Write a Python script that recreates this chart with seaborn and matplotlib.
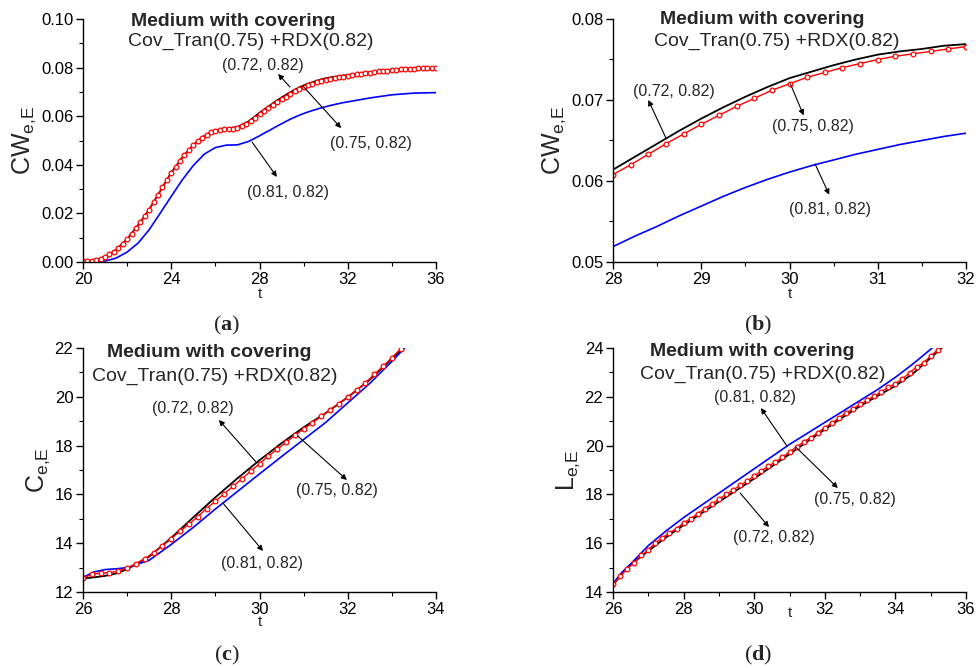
import numpy as np
import pandas as pd
import matplotlib
matplotlib.use("Agg")
import matplotlib.pyplot as plt
import seaborn as sns

sns.set_theme(style="ticks")
plt.rcParams["font.family"] = ["Liberation Sans", "DejaVu Sans"]
plt.rcParams["mathtext.fontset"] = "custom"
plt.rcParams["mathtext.rm"] = "Liberation Sans"
plt.rcParams["mathtext.it"] = "Liberation Sans"
plt.rcParams["mathtext.bf"] = "Liberation Serif:bold"

# ---------------- data: panels (a) and (b) : CW_e,E ----------------
t_cw_red = [20.0, 20.2, 20.4, 20.6, 20.8, 21.0, 21.2, 21.4, 21.6, 21.8,
            22.0, 22.2, 22.4, 22.6, 22.8, 23.0, 23.2, 23.4, 23.6, 23.8,
            24.0, 24.2, 24.4, 24.6, 24.8, 25.0, 25.2, 25.4, 25.6, 25.8,
            26.0, 26.2, 26.4, 26.6, 26.8, 27.0, 27.2, 27.4, 27.6, 27.8,
            28.0, 28.2, 28.4, 28.6, 28.8, 29.0, 29.2, 29.4, 29.6, 29.8,
            30.0, 30.2, 30.4, 30.6, 30.8, 31.0, 31.2, 31.4, 31.6, 31.8,
            32.0, 32.2, 32.4, 32.6, 32.8, 33.0, 33.2, 33.4, 33.6, 33.8,
            34.0, 34.2, 34.4, 34.6, 34.8, 35.0, 35.2, 35.4, 35.6, 35.8, 36.0]
cw_075 = [0.0003, 0.0004, 0.0006, 0.0009, 0.0014, 0.0021, 0.0031, 0.0043, 0.0058, 0.0075,
          0.0094, 0.0116, 0.0140, 0.0164, 0.0189, 0.0215, 0.0246, 0.0277, 0.0307, 0.0337,
          0.0366, 0.0392, 0.0417, 0.0440, 0.0461, 0.0480, 0.0497, 0.0512, 0.0524, 0.0534,
          0.0541, 0.0545, 0.0547, 0.0548, 0.0549, 0.0553, 0.0560, 0.0569, 0.0580, 0.0594,
          0.0608, 0.0620, 0.0633, 0.0646, 0.0658, 0.0670, 0.0681, 0.0692, 0.0702, 0.0712,
          0.0720, 0.0728, 0.0734, 0.0740, 0.0745, 0.0750, 0.0754, 0.0757, 0.0760, 0.0763,
          0.0766, 0.0769, 0.0772, 0.0775, 0.0777, 0.0779, 0.0781, 0.0784, 0.0786, 0.0788,
          0.0790, 0.0791, 0.0793, 0.0794, 0.0795, 0.0796, 0.0797, 0.0798, 0.0798, 0.0799, 0.0799]

t_cw = [20.0, 20.5, 21.0, 21.5, 22.0, 22.5, 23.0, 23.5, 24.0, 24.5, 25.0, 25.5,
        26.0, 26.5, 27.0, 27.5, 28.0, 28.25, 28.5, 28.75, 29.0, 29.25, 29.5, 29.75,
        30.0, 30.25, 30.5, 30.75, 31.0, 31.25, 31.5, 31.75, 32.0, 33.0, 34.0, 35.0, 36.0]
cw_072 = [0.0002, 0.0007, 0.0021, 0.0050, 0.0095, 0.0152, 0.0216, 0.0292, 0.0368, 0.0430,
          0.0482, 0.0519, 0.0542, 0.0549, 0.0555, 0.0578, 0.0614, 0.0630, 0.0646, 0.0662,
          0.0677, 0.0691, 0.0704, 0.0716, 0.0727, 0.0735, 0.0743, 0.0750, 0.0756, 0.0760,
          0.0763, 0.0767, 0.0769, 0.0781, 0.0791, 0.0797, 0.0799]
cw_081 = [0.0000, 0.0001, 0.0004, 0.0016, 0.0041, 0.0078, 0.0133, 0.0201, 0.0270, 0.0338,
          0.0397, 0.0444, 0.0471, 0.0481, 0.0482, 0.0496, 0.0519, 0.0532, 0.0544, 0.0557,
          0.0569, 0.0581, 0.0592, 0.0602, 0.0611, 0.0619, 0.0626, 0.0633, 0.0639, 0.0645,
          0.0650, 0.0655, 0.0659, 0.0675, 0.0688, 0.0695, 0.0697]

# ---------------- data: panel (c) : C_e,E ----------------
t_c_red = [26.0, 26.2, 26.4, 26.6, 26.8, 27.0, 27.2, 27.4, 27.6, 27.8,
           28.0, 28.2, 28.4, 28.6, 28.8, 29.0, 29.2, 29.4, 29.6, 29.8,
           30.0, 30.2, 30.4, 30.6, 30.8, 31.0, 31.2, 31.4, 31.6, 31.8,
           32.0, 32.2, 32.4, 32.6, 32.8, 33.0, 33.2, 33.4]
c_075 = [12.57, 12.72, 12.78, 12.79, 12.86, 12.98, 13.16, 13.37, 13.61, 13.89,
         14.19, 14.50, 14.77, 15.09, 15.42, 15.72, 16.03, 16.33, 16.64, 16.95,
         17.26, 17.57, 17.85, 18.13, 18.42, 18.68, 18.94, 19.20, 19.46, 19.72,
         19.99, 20.27, 20.57, 20.92, 21.25, 21.60, 21.97, 22.35]
t_c = [26.0, 26.25, 26.5, 26.75, 27.0, 27.5, 28.0, 28.5, 29.0, 29.5, 30.0,
       30.5, 31.0, 31.5, 32.0, 32.5, 33.0, 33.5]
c_072 = [12.55, 12.60, 12.66, 12.76, 12.93, 13.45, 14.22, 15.06, 15.88, 16.66, 17.40,
         18.10, 18.75, 19.33, 19.98, 20.70, 21.55, 22.45]
c_081 = [12.60, 12.82, 12.92, 12.95, 13.00, 13.30, 13.95, 14.65, 15.40, 16.12, 16.84,
         17.55, 18.25, 18.95, 19.75, 20.55, 21.45, 22.40]

# ---------------- data: panel (d) : L_e,E ----------------
t_l_red = [26.0, 26.2, 26.4, 26.6, 26.8, 27.0, 27.2, 27.4, 27.6, 27.8,
           28.0, 28.2, 28.4, 28.6, 28.8, 29.0, 29.2, 29.4, 29.6, 29.8,
           30.0, 30.2, 30.4, 30.6, 30.8, 31.0, 31.2, 31.4, 31.6, 31.8,
           32.0, 32.2, 32.4, 32.6, 32.8, 33.0, 33.2, 33.4, 33.6, 33.8,
           34.0, 34.2, 34.4, 34.6, 34.8, 35.0, 35.2, 35.4]
l_075 = [14.31, 14.64, 14.96, 15.19, 15.50, 15.73, 16.01, 16.23, 16.42, 16.60,
         16.83, 17.01, 17.21, 17.42, 17.61, 17.80, 18.00, 18.18, 18.37, 18.55,
         18.75, 18.96, 19.15, 19.33, 19.53, 19.74, 19.94, 20.15, 20.33, 20.53,
         20.73, 20.93, 21.13, 21.34, 21.51, 21.69, 21.86, 22.03, 22.20, 22.40,
         22.54, 22.74, 22.98, 23.22, 23.40, 23.67, 23.93, 24.20]
t_l = [26.0, 26.25, 26.5, 27.0, 27.5, 28.0, 28.5, 29.0, 29.5, 30.0, 30.5, 31.0,
       31.5, 32.0, 32.5, 33.0, 33.5, 34.0, 34.5, 35.0, 35.5]
l_072 = [14.28, 14.75, 15.12, 15.68, 16.24, 16.74, 17.22, 17.70, 18.17, 18.65, 19.15, 19.65,
         20.16, 20.66, 21.15, 21.62, 22.04, 22.45, 22.95, 23.60, 24.25]
l_081 = [14.35, 14.80, 15.15, 15.90, 16.50, 17.05, 17.55, 18.05, 18.55, 19.05, 19.55, 20.05,
         20.50, 20.95, 21.40, 21.85, 22.30, 22.80, 23.35, 23.95, 24.60]

labels = ["(0.72, 0.82)", "(0.75, 0.82)", "(0.81, 0.82)"]
title1 = "Medium with covering"
title2 = "Cov_Tran(0.75) +RDX(0.82)"
panel_tags = ["a", "b", "c", "d"]

fig = plt.figure(figsize=(9.76, 6.68), dpi=100)
W, H = 976.0, 668.0


def make_ax(l, r, t, b):
    return fig.add_axes([l / W, 1 - b / H, (r - l) / W, (b - t) / H])


axA = make_ax(83, 436, 19, 262)
axB = make_ax(613, 966, 19, 262)
axC = make_ax(83, 436, 348, 592)
axD = make_ax(613, 966, 348, 592)


def draw(ax, tb, yb, tblue, yblue, tr, yr):
    sns.lineplot(x=tb, y=yb, ax=ax, color="black", lw=1.3, estimator=None, sort=False)
    sns.lineplot(x=tblue, y=yblue, ax=ax, color="#0000FF", lw=1.2, estimator=None, sort=False)
    sns.lineplot(x=tr, y=yr, ax=ax, color="#FF0000", lw=1.0, estimator=None, sort=False,
                 marker="o", markersize=3.4, markerfacecolor="white",
                 markeredgecolor="#FF0000", markeredgewidth=0.9)


draw(axA, t_cw, cw_072, t_cw, cw_081, t_cw_red, cw_075)
draw(axB, t_cw, cw_072, t_cw, cw_081, t_cw_red, cw_075)
draw(axC, t_c, c_072, t_c, c_081, t_c_red, c_075)
draw(axD, t_l, l_072, t_l, l_081, t_l_red, l_075)


def style(ax, xlim, ylim, xmaj, xmin, ymaj, ymin, yfmt, ylabel, xlpad):
    ax.set_xlim(*xlim)
    ax.set_ylim(*ylim)
    ax.xaxis.set_major_locator(matplotlib.ticker.MultipleLocator(xmaj))
    ax.xaxis.set_minor_locator(matplotlib.ticker.MultipleLocator(xmin))
    ax.yaxis.set_major_locator(matplotlib.ticker.MultipleLocator(ymaj))
    ax.yaxis.set_minor_locator(matplotlib.ticker.MultipleLocator(ymin))
    ax.yaxis.set_major_formatter(matplotlib.ticker.FormatStrFormatter(yfmt))
    ax.xaxis.set_major_formatter(matplotlib.ticker.FormatStrFormatter("%d"))
    sns.despine(ax=ax)
    for s in ("left", "bottom"):
        ax.spines[s].set_linewidth(1.0)
        ax.spines[s].set_color("black")
    ax.tick_params(which="major", direction="out", length=5, width=1.0, labelsize=12,
                   colors="black", pad=2)
    ax.tick_params(which="minor", direction="out", length=3, width=0.8, colors="black")
    ax.set_xlabel("t", fontsize=11, labelpad=xlpad)
    ax.set_ylabel(ylabel, fontsize=18, labelpad=2)
    ax.set_facecolor("white")


style(axA, (20, 36), (0, 0.10), 4, 2, 0.02, 0.01, "%.2f", r"CW$_{\mathrm{e{,}E}}$", 0)
style(axB, (28, 32), (0.05, 0.08), 1, 0.5, 0.01, 0.005, "%.2f", r"CW$_{\mathrm{e{,}E}}$", 0)
style(axC, (26, 34), (12, 22), 2, 1, 2, 1, "%d", r"C$_{\mathrm{e{,}E}}$", -1)
style(axD, (26, 36), (14, 24), 2, 1, 2, 1, "%d", r"L$_{\mathrm{e{,}E}}$", -8)


def headers(ax, x1, y1, x2, y2):
    ax.text(x1, y1, title1, fontsize=14, fontweight="bold", ha="center", va="center")
    ax.text(x2, y2, title2, fontsize=14, ha="center", va="center")


def arrow(ax, label, txy, tail, head):
    ax.annotate("", xy=head, xytext=tail,
                arrowprops=dict(arrowstyle="-|>", color="black", lw=0.8,
                                mutation_scale=8, shrinkA=0, shrinkB=0))
    ax.text(txy[0], txy[1], label, fontsize=11.5, ha="center", va="center")


headers(axA, 26.82, 0.0988, 27.59, 0.0909)
arrow(axA, labels[0], (28.16, 0.0807), (29.38, 0.0720), (28.84, 0.0774))
arrow(axA, labels[1], (33.06, 0.0486), (29.97, 0.0724), (31.70, 0.0551))
arrow(axA, labels[2], (29.29, 0.0288), (27.66, 0.0494), (28.79, 0.0350))

headers(axB, 29.69, 0.0799, 29.86, 0.0772)
arrow(axB, labels[0], (28.69, 0.0711), (28.60, 0.0653), (28.40, 0.0700))
arrow(axB, labels[1], (30.27, 0.0667), (30.01, 0.0720), (30.16, 0.0681))
arrow(axB, labels[2], (30.46, 0.0565), (30.29, 0.0621), (30.45, 0.0583))

headers(axC, 28.86, 21.80, 28.99, 20.85)
arrow(axC, labels[0], (28.49, 19.54), (29.92, 17.33), (29.08, 19.05))
arrow(axC, labels[1], (31.76, 16.14), (30.87, 18.39), (31.98, 16.59))
arrow(axC, labels[2], (30.06, 13.15), (29.17, 15.65), (30.08, 13.68))

headers(axD, 29.94, 23.84, 30.25, 22.93)
arrow(axD, labels[2], (30.02, 21.99), (30.93, 19.98), (30.19, 21.54))
arrow(axD, labels[1], (32.86, 17.81), (31.18, 19.94), (32.37, 18.26))
arrow(axD, labels[0], (30.56, 16.25), (29.60, 18.06), (30.42, 16.66))

for lab, (x, y) in zip(panel_tags, [(227, 325), (758, 325), (227, 655), (758, 655)]):
    fig.text(x / W, 1 - y / H, "(" + r"$\mathbf{" + lab + "}$" + ")",
             fontsize=16, ha="center", va="center", family="Liberation Serif")

fig.savefig("out.png", dpi=100, facecolor="white")
